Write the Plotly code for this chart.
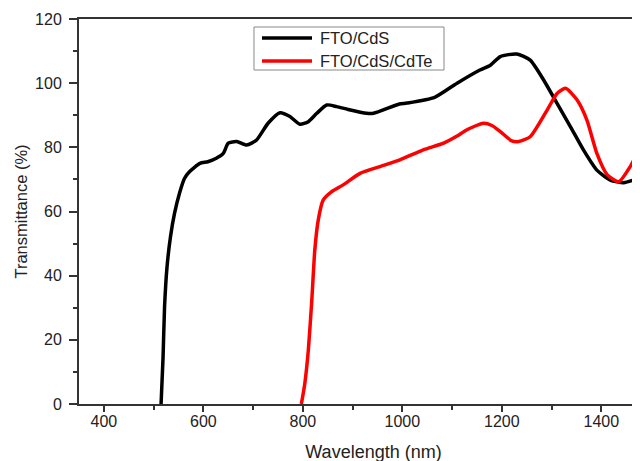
import plotly.graph_objects as go

wl_cds = [515, 519, 522, 527, 534, 542, 552, 562, 572, 593, 609, 626, 640, 650, 667, 687, 707, 730, 754, 774, 794, 811, 828, 848, 868, 891, 928, 942, 994, 1009, 1065, 1110, 1156, 1177, 1197, 1230, 1257, 1284, 1311, 1338, 1364, 1391, 1418, 1445, 1472, 1485]
t_cds = [0, 14.7, 30.3, 42.8, 52.2, 59.4, 65.7, 70.3, 72.4, 75.0, 75.5, 76.6, 78.1, 81.3, 81.8, 80.7, 82.3, 87.5, 90.8, 89.6, 87.2, 88.0, 90.6, 93.2, 92.7, 91.8, 90.6, 90.6, 93.5, 93.8, 95.6, 100, 104.1, 105.6, 108.3, 109.1, 107.2, 101, 93.7, 86.4, 79.2, 72.9, 69.8, 69.0, 70.3, 72]

wl_cdte = [797, 804, 811, 818, 824, 831, 841, 858, 881, 915, 955, 995, 1042, 1083, 1110, 1130, 1163, 1180, 1197, 1220, 1234, 1257, 1291, 1311, 1328, 1351, 1371, 1391, 1412, 1435, 1458, 1479, 1490]
t_cdte = [0, 6.5, 16.8, 32.4, 48, 57.4, 63.6, 66.2, 68.3, 71.9, 74, 76.1, 79.2, 81.3, 83.5, 85.5, 87.5, 86.8, 84.9, 82, 81.8, 83.3, 91.6, 96.8, 98.4, 94.8, 88.5, 78.1, 71.4, 69.3, 74, 80.2, 83]

series_names = ["FTO/CdS", "FTO/CdS/CdTe"]
series_colors = ["black", "#ff0000"]

x_ticks = [400, 600, 800, 1000, 1200, 1400]
y_ticks = [0, 20, 40, 60, 80, 100, 120]

font = "Liberation Sans, Arial, sans-serif"

fig = go.Figure()
fig.add_trace(go.Scatter(x=wl_cds, y=t_cds, mode="lines", name=series_names[0],
                         line=dict(color=series_colors[0], width=3.5, shape="spline", smoothing=0.6)))
fig.add_trace(go.Scatter(x=wl_cdte, y=t_cdte, mode="lines", name=series_names[1],
                         line=dict(color=series_colors[1], width=3.5, shape="spline", smoothing=0.6)))

# manual legend (box, line samples, labels) in paper coordinates
fig.add_shape(type="rect", xref="paper", yref="paper", x0=0.2971, x1=0.6197, y0=0.8675, y1=0.9792,
              line=dict(color="#888", width=1), fillcolor="white", layer="above")
for i, (nm, col) in enumerate(zip(series_names, series_colors)):
    yy = [0.9506, 0.8909][i]
    fig.add_shape(type="line", xref="paper", yref="paper", x0=0.3107, x1=0.3956, y0=yy, y1=yy,
                  line=dict(color=col, width=3.5), layer="above")
    fig.add_annotation(xref="paper", yref="paper", x=0.4058, y=yy, text=nm, showarrow=False,
                       xanchor="left", yanchor="middle", font=dict(size=16.5, color="#222"))

fig.update_layout(
    width=660, height=461,
    margin=dict(l=71, r=0, t=11, b=65, autoexpand=False),
    paper_bgcolor="white", plot_bgcolor="white",
    font=dict(family=font, size=16, color="#222"),
    showlegend=False,
    xaxis=dict(range=[350, 1534], tickvals=x_ticks, ticks="outside", ticklen=6,
               tickwidth=1.5, tickcolor="#333", showline=True, linecolor="#333",
               linewidth=1.5, mirror=True, showgrid=False, zeroline=False,
               ticklabelstandoff=-4,
               minor=dict(dtick=100, tick0=0, ticks="outside", ticklen=4, tickwidth=1.5, tickcolor="#333"),
               title=dict(text="Wavelength (nm)", font=dict(size=18, color="#222"), standoff=16),
               tickfont=dict(size=16, color="#222")),
    yaxis=dict(range=[0, 120], tickvals=y_ticks, ticks="outside", ticklen=8,
               tickwidth=1.5, tickcolor="#333", showline=True, linecolor="#333",
               linewidth=2, showgrid=False, zeroline=False,
               ticklabelstandoff=4,
               minor=dict(dtick=10, tick0=0, ticks="outside", ticklen=4, tickwidth=1.5, tickcolor="#333"),
               title=dict(text="Transmittance (%)", font=dict(size=16.5, color="#222"), standoff=3),
               tickfont=dict(size=16, color="#222")),
)

fig.write_html("out.html")
